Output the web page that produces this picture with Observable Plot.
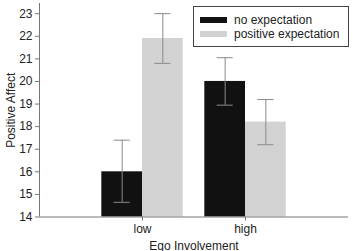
<!DOCTYPE html>
<html><head><meta charset="utf-8">
<script src="https://cdn.jsdelivr.net/npm/d3@7"></script>
<script src="https://cdn.jsdelivr.net/npm/@observablehq/plot@0.6"></script>
<style>
body{margin:0;background:#fff;font-family:"Liberation Sans",Arial,sans-serif;}
#wrap{position:relative;width:353px;height:251px;}
#legend{position:absolute;left:193px;top:6px;width:154px;height:39px;border:1px solid #444;box-sizing:content-box;font-size:12px;color:#222;}
.row{position:absolute;left:6px;height:14px;display:flex;align-items:center;}
.sw{width:27px;height:6px;margin-right:7px;}
</style></head>
<body><div id="wrap"><div id="legend"></div></div>
<script>
const groups = ["low", "high"];
const series = ["no expectation", "positive expectation"];
const colors = ["#111111", "#d2d2d2"];
const noExpMean = [16.0, 20.0];
const noExpLow = [14.65, 18.95];
const noExpHigh = [17.4, 21.05];
const posExpMean = [21.9, 18.2];
const posExpLow = [20.8, 17.2];
const posExpHigh = [23.0, 19.2];
const yTicks = [14, 15, 16, 17, 18, 19, 20, 21, 22, 23];

const bw = 0.395;
const rows = [];
groups.forEach((g, i) => {
  rows.push({g, i, s: 0, mean: noExpMean[i], lo: noExpLow[i], hi: noExpHigh[i]});
  rows.push({g, i, s: 1, mean: posExpMean[i], lo: posExpLow[i], hi: posExpHigh[i]});
});
rows.forEach(r => {
  r.x1 = r.i + 1 + (r.s === 0 ? -bw : 0);
  r.x2 = r.x1 + bw;
  r.xc = (r.x1 + r.x2) / 2;
});
const cap = 0.078;

const chart = Plot.plot({
  width: 353, height: 251,
  marginLeft: 39, marginRight: 5, marginTop: 3, marginBottom: 34.5,
  style: {fontFamily: "Liberation Sans, Arial, sans-serif", fontSize: "12px", color: "#222", background: "white"},
  x: {domain: [0, 3], axis: null},
  y: {domain: [14, 23.45], axis: null},
  marks: [
    Plot.rectY(rows, {x1: "x1", x2: "x2", y1: 14, y2: "mean", fill: d => colors[d.s]}),
    Plot.ruleX(rows, {x: "xc", y1: "lo", y2: "hi", stroke: "#8a8a8a", strokeWidth: 1}),
    Plot.ruleY(rows, {y: "lo", x1: d => d.xc - cap, x2: d => d.xc + cap, stroke: "#8a8a8a"}),
    Plot.ruleY(rows, {y: "hi", x1: d => d.xc - cap, x2: d => d.xc + cap, stroke: "#8a8a8a"}),
    Plot.ruleY([14], {stroke: "#777"}),
    Plot.ruleX([0], {y1: 14, y2: 23.45, stroke: "#777"}),
    Plot.axisY({ticks: yTicks, tickSize: 4, tickPadding: 3, stroke: "#777", label: "Positive Affect", labelAnchor: "center", labelArrow: "none", labelOffset: 33, fontSize: 12}),
    Plot.axisX({ticks: [1, 2], tickFormat: d => groups[d - 1], tickSize: 4, tickPadding: 3, stroke: "#777", label: "Ego Involvement", labelAnchor: "center", labelArrow: "none", labelOffset: 33, fontSize: 12})
  ]
});
document.getElementById("wrap").prepend(chart);
const lg = document.getElementById("legend");
series.forEach((s, k) => {
  const r = document.createElement("div");
  r.className = "row";
  r.style.top = (6 + k * 14) + "px";
  r.innerHTML = `<div class="sw" style="background:${colors[k]}"></div><span>${s}</span>`;
  lg.appendChild(r);
});
</script></body></html>
